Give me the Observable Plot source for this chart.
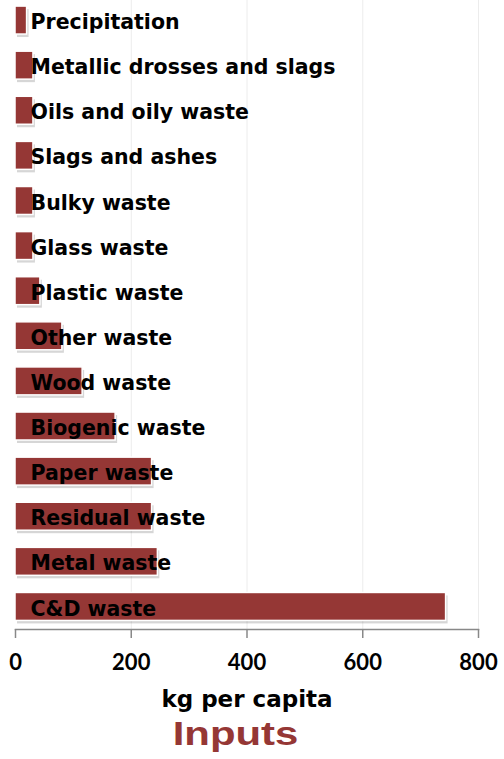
<!DOCTYPE html>
<html>
<head>
<meta charset="utf-8">
<script src="https://cdn.jsdelivr.net/npm/d3@7"></script>
<script src="https://cdn.jsdelivr.net/npm/@observablehq/plot@0.6"></script>
<style>
  html, body { margin: 0; padding: 0; background: #fff; }
  #wrap { width: 504px; }
  .xlabel { text-align: center; font-family: "DejaVu Sans", sans-serif; font-weight: bold; font-size: 23px; color: #000; line-height: 30px; height: 30px; margin-left: -10px; }
  .title { text-align: center; height: 44px; line-height: 40px; margin-left: -34px; }
  .title span { display: inline-block; font-family: "Liberation Sans", Arial, sans-serif; font-weight: bold; font-size: 33px; color: #953735; transform: scaleX(1.27); }
</style>
</head>
<body>
<div id="wrap"></div>
<script>
const categories = ["Precipitation","Metallic drosses and slags","Oils and oily waste","Slags and ashes","Bulky waste","Glass waste","Plastic waste","Other waste","Wood waste","Biogenic waste","Paper waste","Residual waste","Metal waste","C&D waste"];
const values = [20, 31, 31, 31, 31, 31, 43, 81, 116, 173, 236, 236, 246, 744];
const xTicks = [0, 200, 400, 600, 800];
const xLabel = "kg per capita";
const titleText = "Inputs";

const data = categories.map((c, i) => ({category: c, value: values[i]}));

const chart = Plot.plot({
  width: 504,
  height: 684,
  marginTop: 0,
  marginLeft: 15,
  marginRight: 26,
  marginBottom: 55,
  style: {fontFamily: "Lato, sans-serif", background: "#fff"},
  x: {domain: [0, 800], ticks: xTicks, label: null},
  y: {domain: categories, range: [-2.5, 629], round: false, paddingInner: 0.38, paddingOuter: 0.19, axis: null},
  marks: [
    Plot.gridX(xTicks.slice(1), {stroke: "#ececec", strokeOpacity: 1}),
    Plot.barX(data, {x: "value", y: "category", fill: "#000", fillOpacity: 0.16, dx: 2, dy: 3}),
    Plot.barX(data, {x: "value", y: "category", fill: "#953735", stroke: "#fff", strokeWidth: 1.5}),
    Plot.text(data, {x: 0, y: "category", text: "category", textAnchor: "start", dx: 15, dy: 2, fill: "#000", fontSize: 20.5, fontWeight: "bold", fontFamily: "DejaVu Sans, sans-serif"}),
    Plot.frame({anchor: "bottom", stroke: "#888", strokeWidth: 1.5}),
    Plot.axisX(xTicks, {tickSize: 9, stroke: "#888", strokeWidth: 1.5, tickPadding: 16, fontSize: 22, fontWeight: "bold", fill: "#000", label: null})
  ]
});

const wrap = document.getElementById("wrap");
wrap.appendChild(chart);
const xl = document.createElement("div");
xl.className = "xlabel";
xl.textContent = xLabel;
wrap.appendChild(xl);
const t = document.createElement("div");
t.className = "title";
const s = document.createElement("span");
s.textContent = titleText;
t.appendChild(s);
wrap.appendChild(t);
</script>
</body>
</html>
